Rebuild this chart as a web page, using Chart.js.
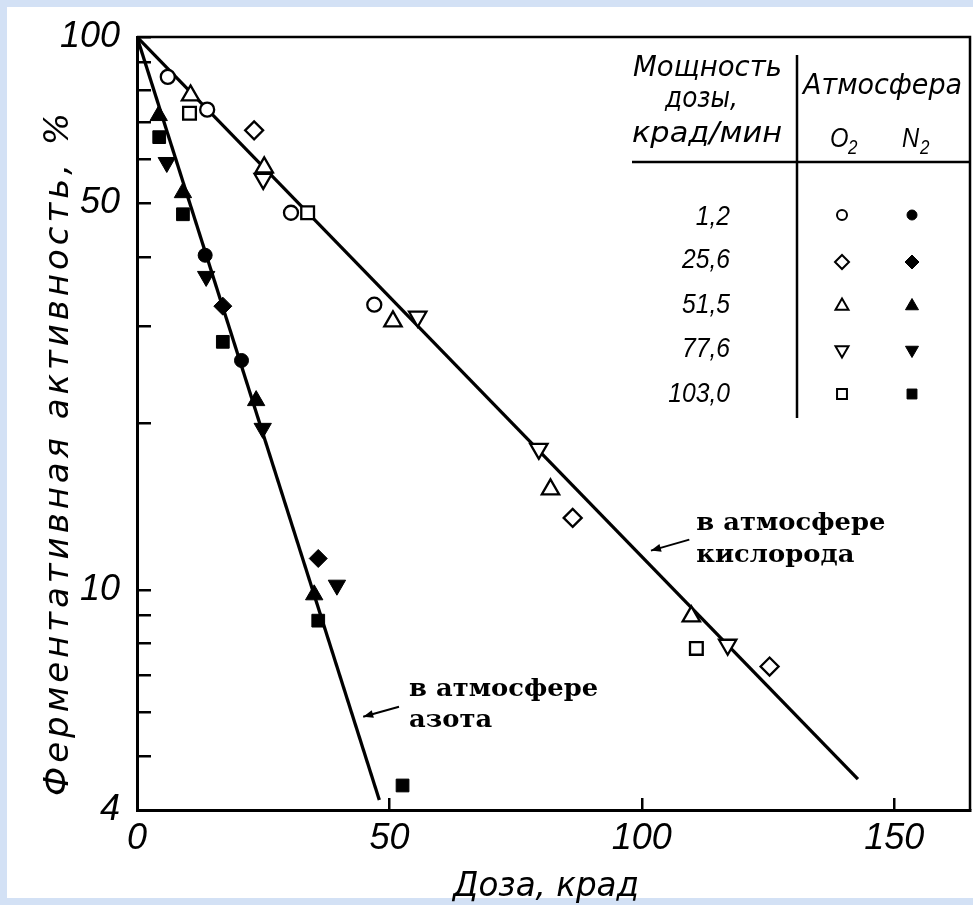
<!DOCTYPE html>
<html><head><meta charset="utf-8">
<script src="https://cdn.jsdelivr.net/npm/chart.js@4.4.1/dist/chart.umd.min.js"></script>
<style>
html,body{margin:0;padding:0;background:#d3e1f5;}
#wrap{position:absolute;left:0;top:0;width:973px;height:905px;}
canvas{display:block;}
</style></head><body>
<div id="wrap"><canvas id="c" width="973" height="905"></canvas></div>
<script>
// ---------- data ----------
const doseRates = ['1,2', '25,6', '51,5', '77,6', '103,0'];

// O2 atmosphere (open markers), one array per dose rate
const o2Rate1_2   = [{x:6.1,y:84.7},{x:13.9,y:73.9},{x:30.5,y:48.1},{x:47.0,y:32.8}];
const o2Rate25_6  = [{x:23.2,y:67.8},{x:86.3,y:13.5},{x:125.3,y:7.27}];
const o2Rate51_5  = [{x:10.6,y:78.4},{x:25.2,y:58.1},{x:50.7,y:30.6},{x:81.9,y:15.2},{x:109.8,y:8.96}];
const o2Rate77_6  = [{x:25.0,y:55.4},{x:55.6,y:31.2},{x:79.6,y:18.0},{x:117.0,y:7.96}];
const o2Rate103_0 = [{x:10.4,y:72.8},{x:33.8,y:48.1},{x:110.8,y:7.84}];

// N2 atmosphere (filled markers)
const n2Rate1_2   = [{x:13.5,y:40.3},{x:20.7,y:26.0}];
const n2Rate25_6  = [{x:17.0,y:32.6},{x:35.9,y:11.4}];
const n2Rate51_5  = [{x:4.3,y:72.1},{x:9.1,y:52.3},{x:23.6,y:22.0},{x:35.1,y:9.8}];
const n2Rate77_6  = [{x:5.9,y:59.3},{x:13.7,y:36.9},{x:24.9,y:19.6},{x:39.6,y:10.2}];
const n2Rate103_0 = [{x:4.4,y:65.9},{x:9.1,y:47.8},{x:17.0,y:28.1},{x:35.9,y:8.8},{x:52.6,y:4.43}];

// fitted lines
const o2Line = [{x:0,y:100},{x:142.8,y:4.55}];
const n2Line = [{x:0,y:100},{x:48.0,y:4.17}];

const xTicks = [0, 50, 100, 150];
const yTicks = [4, 5, 6, 7, 8, 9, 10, 20, 30, 40, 50, 60, 70, 80, 90, 100];
const yTickLabels = [4, 10, 50, 100];

const xTitle = 'Доза, крад';
const yTitle = 'Ферментативная активность, %';
const legendHeader = ['Мощность', 'дозы,', 'крад/мин'];
const atmosHeader = 'Атмосфера';
const atmosCols = ['O', 'N'];
const noteO2 = ['в атмосфере', 'кислорода'];
const noteN2 = ['в атмосфере', 'азота'];

// ---------- styles ----------
const markerStyles = ['circle', 'rectRot', 'triangle', 'triangle', 'rect'];
const markerRotations = [0, 0, 0, 180, 0];
const markerRadii = [7, 9, 10, 10, 9];
const legendRadii = [5, 7, 7.5, 7.5, 7];

const o2Sets = [o2Rate1_2, o2Rate25_6, o2Rate51_5, o2Rate77_6, o2Rate103_0];
const n2Sets = [n2Rate1_2, n2Rate25_6, n2Rate51_5, n2Rate77_6, n2Rate103_0];

const datasets = [];
o2Sets.forEach((d, i) => datasets.push({
  label: 'O2 ' + doseRates[i], data: d, order: 0,
  pointStyle: markerStyles[i], rotation: markerRotations[i], pointRadius: markerRadii[i],
  backgroundColor: '#ffffff', borderColor: '#000000', borderWidth: 2.3, showLine: false
}));
n2Sets.forEach((d, i) => datasets.push({
  label: 'N2 ' + doseRates[i], data: d, order: 0,
  pointStyle: markerStyles[i], rotation: markerRotations[i], pointRadius: markerRadii[i],
  backgroundColor: '#000000', borderColor: '#000000', borderWidth: 1, showLine: false
}));
[o2Line, n2Line].forEach((d, i) => datasets.push({
  type: 'line', label: i ? 'N2 fit' : 'O2 fit', data: d, order: 10,
  borderColor: '#000000', borderWidth: 3.3, pointRadius: 0, fill: false, tension: 0
}));

const TICK_FONT = {family: '"Liberation Sans", sans-serif', style: 'italic', size: 36};
const SANS_I = '"DejaVu Sans", sans-serif';
const NARROW = '"Liberation Sans", sans-serif';
const SERIF_B = '"DejaVu Serif", "Liberation Serif", serif';

function scaledText(ctx, text, x, y, font, sx, align) {
  ctx.save();
  ctx.font = font;
  ctx.translate(x, y);
  ctx.scale(sx, 1);
  ctx.textAlign = align || 'left';
  ctx.textBaseline = 'alphabetic';
  ctx.fillText(text, 0, 0);
  ctx.restore();
}
function fitScale(ctx, text, font, w) {
  ctx.font = font;
  return w / ctx.measureText(text).width;
}
function arrow(ctx, x1, y1, x2, y2) {
  ctx.save();
  ctx.strokeStyle = '#000'; ctx.fillStyle = '#000'; ctx.lineWidth = 2;
  ctx.beginPath(); ctx.moveTo(x1, y1); ctx.lineTo(x2, y2); ctx.stroke();
  const a = Math.atan2(y2 - y1, x2 - x1), L = 10, W = 4;
  ctx.beginPath();
  ctx.moveTo(x2, y2);
  ctx.lineTo(x2 - L * Math.cos(a) + W * Math.sin(a), y2 - L * Math.sin(a) - W * Math.cos(a));
  ctx.lineTo(x2 - L * Math.cos(a) - W * Math.sin(a), y2 - L * Math.sin(a) + W * Math.cos(a));
  ctx.closePath(); ctx.fill();
  ctx.restore();
}
function zeroPad(s) { s.paddingTop = 0; s.paddingBottom = 0; s.paddingLeft = 0; s.paddingRight = 0; }

const bgPlugin = {
  id: 'bg',
  beforeDraw(chart) {
    const ctx = chart.ctx;
    ctx.save();
    ctx.fillStyle = '#ffffff';
    ctx.fillRect(7, 7, 966, 891);
    ctx.restore();
  }
};

const framePlugin = {
  id: 'frame',
  beforeDatasetsDraw(chart) {
    const {ctx, chartArea: a} = chart;
    ctx.save();
    ctx.strokeStyle = '#000'; ctx.lineWidth = 2.5;
    ctx.beginPath();
    ctx.moveTo(a.left, a.top); ctx.lineTo(a.right, a.top); ctx.lineTo(a.right, a.bottom);
    ctx.stroke();
    ctx.restore();
  }
};

const textPlugin = {
  id: 'texts',
  afterDraw(chart) {
    const ctx = chart.ctx;
    const xs = chart.scales.x, ys = chart.scales.y;
    ctx.save();
    ctx.fillStyle = '#000';

    // y title (rotated, spaced letters)
    ctx.save();
    ctx.font = 'italic 34px ' + SANS_I;
    ctx.letterSpacing = '0px';
    const w0 = ctx.measureText(yTitle).width;
    const ls = (683 - w0) / (yTitle.length - 1);
    ctx.translate(68, 796);
    ctx.rotate(-Math.PI / 2);
    ctx.letterSpacing = ls + 'px';
    ctx.textAlign = 'left'; ctx.textBaseline = 'alphabetic';
    ctx.fillText(yTitle, 0, 0);
    ctx.restore();

    // x title
    const xf = 'italic 33px ' + SANS_I;
    scaledText(ctx, xTitle, 453, 896, xf, fitScale(ctx, xTitle, xf, 186), 'left');

    // legend table header
    const hf = 'italic 28px ' + SANS_I;
    scaledText(ctx, legendHeader[0], 633, 76, hf, fitScale(ctx, legendHeader[0], hf, 149));
    scaledText(ctx, legendHeader[1], 665, 107, hf, fitScale(ctx, legendHeader[1], hf, 73));
    scaledText(ctx, legendHeader[2], 632, 142, hf, fitScale(ctx, legendHeader[2], hf, 150));
    scaledText(ctx, atmosHeader, 803, 94, hf, fitScale(ctx, atmosHeader, hf, 159));
    const cf = 'italic 28px ' + NARROW;
    const sf = 'italic 20px ' + NARROW;
    scaledText(ctx, atmosCols[0], 830, 147, cf, 0.85);
    scaledText(ctx, '2', 848, 154, sf, 0.85);
    scaledText(ctx, atmosCols[1], 902, 147, cf, 0.85);
    scaledText(ctx, '2', 920, 154, sf, 0.85);

    ctx.strokeStyle = '#000'; ctx.lineWidth = 2.5;
    ctx.beginPath(); ctx.moveTo(632, 162); ctx.lineTo(970, 162); ctx.stroke();
    ctx.beginPath(); ctx.moveTo(797, 55); ctx.lineTo(797, 418); ctx.stroke();

    // legend rows
    const rf = 'italic 28px ' + NARROW;
    const rs = fitScale(ctx, doseRates[1], rf, 48);
    const rowBase = [225, 268, 313, 357, 402];
    const rowMid = [215, 262, 306, 350, 394];
    doseRates.forEach((r, i) => {
      scaledText(ctx, r, 730, rowBase[i], rf, rs, 'right');
      const opt = {pointStyle: markerStyles[i], rotation: markerRotations[i], radius: legendRadii[i], borderWidth: 2};
      ctx.save();
      ctx.strokeStyle = '#000'; ctx.fillStyle = '#fff'; ctx.lineWidth = 2;
      Chart.helpers.drawPoint(ctx, opt, 842, rowMid[i]);
      ctx.restore();
      ctx.save();
      ctx.strokeStyle = '#000'; ctx.fillStyle = '#000'; ctx.lineWidth = 1;
      Chart.helpers.drawPoint(ctx, Object.assign({}, opt, {borderWidth: 1}), 912, rowMid[i]);
      ctx.restore();
    });

    // annotations (anchored in data coordinates)
    const nf = 'bold 25px ' + SERIF_B;
    const ns = fitScale(ctx, noteO2[0], nf, 189);
    const ox = xs.getPixelForValue(110.8), oy = ys.getPixelForValue(12.85);
    scaledText(ctx, noteO2[0], ox, oy, nf, ns);
    scaledText(ctx, noteO2[1], ox, oy + 32, nf, ns);
    arrow(ctx, xs.getPixelForValue(109.4), ys.getPixelForValue(12.33), xs.getPixelForValue(101.8), ys.getPixelForValue(11.78));

    const nx = xs.getPixelForValue(53.9), ny = ys.getPixelForValue(6.44);
    scaledText(ctx, noteN2[0], nx, ny, nf, ns);
    scaledText(ctx, noteN2[1], nx, ny + 31, nf, ns);
    arrow(ctx, xs.getPixelForValue(51.9), ys.getPixelForValue(6.15), xs.getPixelForValue(44.8), ys.getPixelForValue(5.90));

    ctx.restore();
  }
};

Chart.defaults.color = '#000';

new Chart(document.getElementById('c'), {
  type: 'scatter',
  data: {datasets},
  options: {
    responsive: false,
    animation: false,
    events: [],
    layout: {autoPadding: false, padding: {top: 37, right: 3, left: 0, bottom: 0}},
    plugins: {legend: {display: false}, tooltip: {enabled: false}, title: {display: false}},
    scales: {
      x: {
        type: 'linear', min: 0, max: 165,
        border: {display: true, color: '#000', width: 3},
        grid: {drawOnChartArea: false, drawTicks: true, tickLength: -12, color: '#000', lineWidth: 2.5},
        ticks: {padding: 19, font: TICK_FONT, color: '#000', autoSkip: false, maxRotation: 0,
                callback: v => String(v)},
        afterBuildTicks: s => { s.ticks = xTicks.map(v => ({value: v})); },
        afterFit: s => { s.height = 95; zeroPad(s); }
      },
      y: {
        type: 'logarithmic', min: 4, max: 100,
        border: {display: true, color: '#000', width: 3},
        grid: {drawOnChartArea: false, drawTicks: true, tickLength: -14, color: '#000', lineWidth: 2.5},
        ticks: {padding: 31, font: TICK_FONT, color: '#000', autoSkip: false,
                callback: v => (yTickLabels.includes(v) ? String(v) : '')},
        afterBuildTicks: s => { s.ticks = yTicks.map(v => ({value: v})); },
        afterFit: s => { s.width = 137; zeroPad(s); }
      }
    }
  },
  plugins: [bgPlugin, framePlugin, textPlugin]
});
</script>
</body></html>
